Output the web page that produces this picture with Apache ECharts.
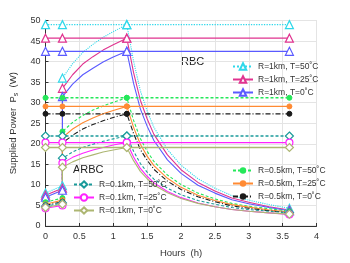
<!DOCTYPE html>
<html><head><meta charset="utf-8">
<script src="https://cdn.jsdelivr.net/npm/echarts@6/dist/echarts.min.js"></script>
<style>html,body{margin:0;padding:0;background:#fff}#c{width:350px;height:263px}</style>
</head><body><div id="c"></div>
<script>
// ---- data ----
var lowHours = [0, 0.25];
var riseHours = [0.25, 0.4, 0.55, 0.7, 0.85, 1.0, 1.2];
var decayHours = [1.2, 1.3, 1.4, 1.5, 1.6, 1.8, 2.0, 2.25, 2.5, 2.75, 3.0, 3.3, 3.6];
var maxHours = [0, 0.25, 1.2, 3.6];
var xTicks = [0, 0.5, 1, 1.5, 2, 2.5, 3, 3.5, 4];
var yTicks = [0, 5, 10, 15, 20, 25, 30, 35, 40, 45, 50];

var names = ['R=1km, T=50˚C','R=1km, T=25˚C','R=1km, T=0˚C',
             'R=0.5km, T=50˚C','R=0.5km, T=25˚C','R=0.5km, T=0˚C',
             'R=0.1km, T=50˚C','R=0.1km, T=25˚C','R=0.1km, T=0˚C'];

var maxVals = [49.0, 45.7, 42.5, 31.2, 29.1, 27.3, 21.9, 20.3, 19.1];

var low_1km_50 = [8.0, 9.8];
var low_1km_25 = [7.5, 9.2];
var low_1km_0  = [7.0, 8.7];
var low_05km_50 = [5.8, 6.8];
var low_05km_25 = [5.3, 6.3];
var low_05km_0  = [5.0, 5.9];
var low_01km_50 = [4.8, 5.6];
var low_01km_25 = [4.3, 5.0];
var low_01km_0  = [4.5, 5.3];

var rise_1km_50 = [36, 39.5, 42.2, 44.2, 45.9, 47.3, 49];
var rise_1km_25 = [33.5, 36.8, 39.4, 41.2, 42.8, 44.1, 45.7];
var rise_1km_0  = [31.5, 34.5, 36.8, 38.4, 39.9, 41.1, 42.5];
var rise_05km_50 = [23, 25.2, 26.9, 28.2, 29.2, 30.1, 31.2];
var rise_05km_25 = [21.5, 23.6, 25.1, 26.3, 27.3, 28.1, 29.1];
var rise_05km_0  = [20.2, 22.1, 23.6, 24.7, 25.6, 26.4, 27.3];
var rise_01km_50 = [16.5, 18.0, 19.1, 19.9, 20.6, 21.2, 21.9];
var rise_01km_25 = [15.3, 16.7, 17.7, 18.5, 19.1, 19.7, 20.3];
var rise_01km_0  = [14.3, 15.6, 16.6, 17.3, 18.0, 18.5, 19.1];

var decay_1km_50 = [49, 40.1, 32.9, 28.0, 24.0, 18.6, 14.8, 11.5, 9.2, 7.4, 6.3, 5.2, 4.3];
var decay_1km_25 = [45.7, 37.3, 30.6, 26.1, 22.3, 17.3, 13.7, 10.6, 8.5, 6.8, 5.8, 4.7, 3.9];
var decay_1km_0  = [42.5, 34.7, 28.5, 24.3, 20.8, 16.1, 12.8, 9.9, 8.0, 6.4, 5.4, 4.5, 3.7];
var decay_05km_50 = [31.2, 25.7, 21.3, 18.2, 15.7, 12.4, 10.1, 8.0, 6.6, 5.5, 4.8, 4.2, 3.6];
var decay_05km_25 = [29.1, 24.0, 19.9, 17.0, 14.7, 11.6, 9.4, 7.5, 6.2, 5.2, 4.6, 3.9, 3.4];
var decay_05km_0  = [27.3, 22.5, 18.6, 16.0, 13.8, 10.9, 8.9, 7.1, 5.9, 4.9, 4.3, 3.7, 3.2];
var decay_01km_50 = [21.9, 18.2, 15.2, 13.1, 11.4, 9.2, 7.6, 6.2, 5.3, 4.5, 4.0, 3.6, 3.2];
var decay_01km_25 = [20.3, 16.8, 14.0, 12.1, 10.5, 8.4, 6.9, 5.6, 4.7, 4.0, 3.6, 3.2, 2.8];
var decay_01km_0  = [19.1, 15.9, 13.3, 11.5, 10.0, 8.1, 6.7, 5.5, 4.7, 4.0, 3.6, 3.2, 2.9];

var lows = [low_1km_50, low_1km_25, low_1km_0, low_05km_50, low_05km_25, low_05km_0, low_01km_50, low_01km_25, low_01km_0];
var rises = [rise_1km_50, rise_1km_25, rise_1km_0, rise_05km_50, rise_05km_25, rise_05km_0, rise_01km_50, rise_01km_25, rise_01km_0];
var decays = [decay_1km_50, decay_1km_25, decay_1km_0, decay_05km_50, decay_05km_25, decay_05km_0, decay_01km_50, decay_01km_25, decay_01km_0];

// ---- styles ----
var colors = ['#2fd8ea','#e0338f','#5a5aff','#25e85a','#ff8a33','#1a1a1a','#1a9a9a','#ff22ff','#adb672'];
var dashes = ['dotted','solid','solid',[3,2],'solid',[5,2,1,2],[3,2],'solid','solid'];
var symbols = ['triangle','triangle','triangle','circle','circle','circle','diamond','circle','diamond'];
var hollow = [true,true,true,false,false,false,true,true,true];
var symSize = [8,8,8,5,5,5,8,7,8];

function pt(x, y, i, marked) {
  var d = {value:[x, y]};
  if (marked) { d.symbol = symbols[i]; d.symbolSize = symSize[i]; }
  else { d.symbol = 'none'; }
  return d;
}

var series = [];
for (var i = 0; i < 9; i++) {
  var itemStyle = hollow[i] ? {color: '#fff', borderColor: colors[i], borderWidth: 1.2} : {color: colors[i], borderColor: colors[i]};
  // horizontal max line
  var hd = maxHours.map(function(h){ return pt(h, maxVals[i], i, true); });
  series.push({name: names[i], type: 'line', data: hd, showSymbol: true, symbol: symbols[i], symbolSize: symSize[i],
    lineStyle: {color: colors[i], width: 1.3, type: dashes[i]}, itemStyle: itemStyle, z: 3, animation: false});
  // curve
  var cd = [];
  lowHours.forEach(function(h, k){ cd.push(pt(h, lows[i][k], i, true)); });
  riseHours.forEach(function(h, k){ cd.push(pt(h, rises[i][k], i, k === 0 || k === riseHours.length - 1)); });
  decayHours.forEach(function(h, k){ if (k > 0) cd.push(pt(h, decays[i][k], i, k === decayHours.length - 1)); });
  series.push({name: names[i], type: 'line', data: cd, showSymbol: true, symbol: symbols[i], symbolSize: symSize[i],
    lineStyle: {color: colors[i], width: 1.1, type: dashes[i]}, itemStyle: itemStyle, z: 2, animation: false});
}

var legendText = {fontSize: 8.5, color: '#333', fontFamily: 'Liberation Sans'};
var chart = echarts.init(document.getElementById('c'), null, {renderer: 'canvas'});
chart.setOption({
  animation: false,
  backgroundColor: '#fff',
  grid: {left: 45.5, right: 33.5, top: 20.5, bottom: 28.5, show: true, borderColor: '#d8d8d8', borderWidth: 1},
  xAxis: {type: 'value', min: 0, max: 4, interval: 0.5,
    name: 'Hours  (h)', nameLocation: 'middle', nameGap: 22,
    nameTextStyle: {fontSize: 9.5, color: '#333', fontFamily: 'Liberation Sans'},
    axisLine: {show: true, lineStyle: {color: '#333', width: 1}},
    axisTick: {show: true, inside: true, length: 3, lineStyle: {color: '#333'}},
    axisLabel: {fontSize: 9, color: '#333', margin: 6, fontFamily: 'Liberation Sans',
      formatter: function(v){ return xTicks.indexOf(v) >= 0 ? String(v) : ''; }},
    splitLine: {show: true, lineStyle: {color: '#e4e4e4', width: 1}}},
  yAxis: {type: 'value', min: 0, max: 50, interval: 5,
    name: 'Supplied Power  P{sub|s}  (W)', nameLocation: 'middle', nameGap: 20, nameRotate: 90,
    nameTextStyle: {fontSize: 9.5, color: '#333', fontFamily: 'Liberation Sans', rich: {sub: {fontSize: 7, verticalAlign: 'bottom', padding: [6,0,0,0]}}},
    axisLine: {show: true, lineStyle: {color: '#333', width: 1}},
    axisTick: {show: true, inside: true, length: 3, lineStyle: {color: '#333'}},
    axisLabel: {fontSize: 9, color: '#333', margin: 5, fontFamily: 'Liberation Sans',
      formatter: function(v){ return yTicks.indexOf(v) >= 0 ? String(v) : ''; }},
    splitLine: {show: true, lineStyle: {color: '#e4e4e4', width: 1}}},
  legend: [
    {data: names.slice(0,3), orient: 'vertical', left: 227, top: 57, itemGap: 4, itemWidth: 20, itemHeight: 8, textStyle: legendText, selectedMode: false},
    {data: names.slice(3,6), orient: 'vertical', left: 227, top: 161, itemGap: 4, itemWidth: 20, itemHeight: 8, textStyle: legendText, selectedMode: false},
    {data: names.slice(6,9), orient: 'vertical', left: 68, top: 175, itemGap: 4, itemWidth: 20, itemHeight: 8, textStyle: legendText, selectedMode: false}
  ],
  graphic: [
    {type: 'text', left: 181, top: 56, style: {text: 'RBC', fontSize: 11, fill: '#222', fontFamily: 'Liberation Sans'}},
    {type: 'text', left: 73, top: 164, style: {text: 'ARBC', fontSize: 11, fill: '#222', fontFamily: 'Liberation Sans'}}
  ],
  series: series
});
</script></body></html>
